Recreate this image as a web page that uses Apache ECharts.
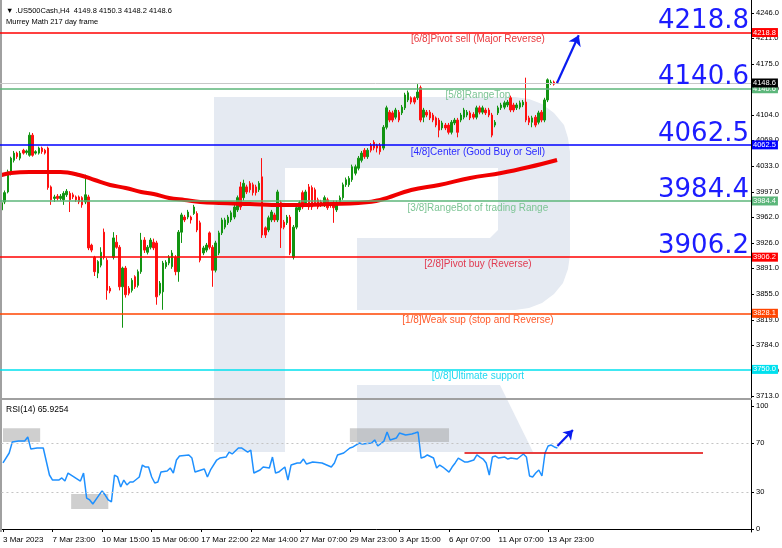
<!DOCTYPE html>
<html><head><meta charset="utf-8">
<script src="https://cdn.jsdelivr.net/npm/echarts@6/dist/echarts.min.js"></script>
<style>html,body{margin:0;padding:0;background:#fff}#c{width:782px;height:548px}</style>
</head><body><div id="c"></div>
<script>
// ---------- data ----------
const timeLabels = ['3 Mar 2023','7 Mar 23:00','10 Mar 15:00','15 Mar 06:00','17 Mar 22:00','22 Mar 14:00','27 Mar 07:00','29 Mar 23:00','3 Apr 15:00','6 Apr 07:00','11 Apr 07:00','13 Apr 23:00'];
const labelStep = 16;
const slotCount = 242;
const priceTicks = [3713.0,3748.0,3784.0,3819.0,3855.0,3891.0,3926.0,3962.0,3997.0,4033.0,4069.0,4104.0,4140.0,4175.0,4211.0,4246.0];
const rsiTicks = [0,30,70,100];
// [open, close, low, high]
const candles = [
[3972,3982,3969,3985],[3983,3996,3980,3999],[3997,4025,3995,4028],[4023,4044,4020,4046],[4041,4051,4038,4054],
[4051,4046,4043,4053],[4044,4051,4041,4054],[4055,4051,4049,4057],[4052,4054,4049,4056],[4048,4076,4046,4080],
[4076,4048,4046,4079],[4051,4053,4049,4055],[4051,4058,4049,4060],[4058,4053,4050,4060],[4055,4051,4049,4057],
[4058,4003,4000,4060],[4004,3986,3979,4006],[3988,3990,3983,3993],[3991,3988,3985,3994],[3988,3991,3985,3994],
[3986,3995,3979,3998],[3993,3998,3990,4001],[3995,3986,3969,3998],[3993,3990,3987,3996],[3990,3986,3983,3992],
[3990,3983,3980,3992],[3989,3979,3975,3991],[3983,3993,3980,4021],[3990,3919,3916,3993],[3923,3916,3913,3925],
[3906,3886,3880,3908],[3884,3900,3877,3902],[3895,3913,3892,3920],[3941,3906,3903,3946],[3902,3860,3847,3905],
[3863,3859,3856,3866],[3906,3933,3903,3941],[3927,3920,3918,3937],[3920,3865,3860,3923],[3865,3891,3808,3893],
[3891,3854,3850,3894],[3863,3856,3853,3866],[3860,3874,3857,3877],[3879,3865,3862,3881],[3867,3886,3864,3889],
[3886,3930,3883,3940],[3930,3916,3912,3934],[3913,3920,3910,3923],[3920,3930,3917,3933],[3927,3919,3916,3932],
[3926,3851,3840,3929],[3856,3870,3853,3873],[3858,3898,3833,3901],[3893,3899,3890,3902],[3898,3906,3895,3909],
[3893,3912,3890,3916],[3906,3886,3881,3909],[3886,3941,3872,3944],[3941,3965,3926,3968],[3962,3958,3955,3965],
[3962,3969,3959,3972],[3962,3958,3953,3964],[3967,3976,3965,3979],[3967,3944,3941,3970],[3954,3902,3899,3957],
[3912,3919,3909,3922],[3916,3923,3913,3926],[3940,3920,3917,3942],[3920,3888,3865,3923],[3888,3926,3885,3929],
[3912,3940,3909,3943],[3940,3958,3937,3961],[3948,3958,3945,3961],[3954,3962,3951,3965],[3958,3968,3955,3971],
[3962,3976,3959,3979],[3972,3989,3969,3992],[4004,3976,3972,4011],[3989,4009,3985,4014],[4004,3997,3994,4007],
[4009,4000,3996,4012],[4007,3996,3992,4010],[4004,3996,3992,4007],[4000,4009,3997,4012],[4018,3937,3933,4044],
[3947,3937,3933,3949],[3944,3961,3941,3964],[3958,3969,3955,3972],[3965,3958,3955,3968],[3958,3997,3955,4000],
[3982,3947,3919,3985],[3955,3948,3945,3958],[3954,3962,3951,3965],[3962,3912,3909,3965],[3906,3948,3903,3951],
[3948,3975,3945,3978],[3972,3982,3969,3985],[3996,3976,3973,3999],[3982,3997,3979,4000],[4004,3976,3972,4008],
[4003,3976,3972,4006],[4000,3982,3979,4003],[3986,3976,3973,3989],[3983,3979,3976,3986],[3979,3989,3976,3992],
[3986,3975,3972,3989],[3979,3978,3975,3982],[3982,3975,3954,3985],[3972,3982,3969,3985],[3982,3989,3979,3992],
[3989,4007,3986,4010],[4007,4014,4004,4017],[4007,4016,4004,4019],[4014,4032,4011,4035],[4023,4032,4020,4035],
[4030,4044,4027,4047],[4041,4051,4038,4054],[4055,4046,4043,4058],[4046,4055,4043,4058],[4062,4055,4052,4065],
[4066,4058,4055,4069],[4062,4058,4052,4064],[4062,4053,4049,4065],[4058,4087,4055,4090],[4087,4114,4084,4117],
[4108,4097,4094,4111],[4107,4097,4094,4110],[4101,4111,4098,4114],[4108,4097,4094,4111],[4107,4115,4104,4118],
[4114,4132,4111,4135],[4125,4135,4122,4138],[4128,4122,4119,4130],[4128,4122,4119,4130],[4128,4136,4125,4147],
[4142,4097,4094,4145],[4101,4111,4094,4114],[4108,4104,4101,4111],[4108,4100,4097,4111],[4104,4097,4094,4107],
[4100,4090,4087,4102],[4097,4083,4073,4100],[4086,4093,4083,4096],[4090,4086,4083,4093],[4090,4080,4077,4093],
[4080,4094,4077,4097],[4093,4097,4090,4100],[4097,4080,4073,4100],[4097,4104,4094,4107],[4101,4111,4098,4114],
[4104,4108,4101,4111],[4107,4100,4097,4110],[4105,4101,4098,4108],[4101,4114,4098,4117],[4114,4108,4105,4117],
[4108,4114,4105,4117],[4111,4107,4104,4114],[4111,4104,4101,4114],[4104,4076,4073,4107],[4090,4094,4087,4097],
[4107,4114,4104,4117],[4114,4118,4111,4121],[4115,4121,4112,4124],[4118,4122,4115,4125],[4128,4111,4108,4131],
[4118,4111,4108,4121],[4114,4118,4111,4121],[4115,4121,4112,4124],[4118,4122,4115,4125],[4122,4097,4094,4156],
[4100,4094,4090,4103],[4094,4100,4087,4103],[4101,4090,4087,4104],[4094,4107,4091,4110],[4108,4097,4094,4111],
[4097,4125,4094,4128],[4125,4153,4122,4155],[4149,4150,4146,4153],[4150,4147,4145,4152],[4149.8,4148.6,4148.2,4150.3]
];
// moving average: [bar index, value]
const maPoints = [[0,4020.6],[3,4023.4],[9,4024.7],[14,4024.7],[19,4024.7],[25,4020.6],[30,4013.6],[35,4006.7],[40,4002.5],[45,3996.9],[49,3994.1],[54,3988.6],[59,3985.8],[64,3983.0],[70,3981.6],[80,3980.2],[90,3978.8],[96,3978.8],[106,3980.2],[115,3981.6],[122,3985.8],[132,3999.7],[141,4006.7],[151,4016.4],[161,4023.4],[170,4031.7],[179,4041.5]];
// RSI(14): [bar index, value]
const rsiPoints = [[0,53.7],[2,61.8],[3,70.7],[5,71.5],[7,71.5],[8,74.8],[9,65.0],[11,65.9],[13,65.9],[15,43.9],[16,39.8],[18,39.8],[19,41.5],[20,39.0],[21,45.5],[22,43.9],[25,39.0],[26,45.5],[27,25.2],[28,23.6],[29,20.3],[31,27.6],[32,30.9],[33,27.6],[34,23.6],[35,22.0],[36,43.9],[37,42.3],[38,34.1],[39,39.8],[40,35.8],[41,38.2],[42,38.2],[44,42.3],[45,52.0],[46,50.4],[47,50.4],[48,42.3],[49,37.4],[50,38.2],[51,46.3],[53,47.2],[54,49.6],[55,45.5],[56,56.1],[57,59.3],[60,60.2],[61,57.7],[62,46.3],[64,48.0],[65,48.8],[66,42.3],[67,48.0],[69,56.1],[70,57.7],[72,58.5],[73,62.6],[74,61.0],[76,65.9],[77,65.9],[79,62.6],[80,64.2],[81,45.5],[83,48.0],[84,50.4],[86,49.6],[87,58.5],[88,45.5],[89,46.3],[91,50.4],[92,39.8],[93,52.0],[95,53.7],[96,53.7],[97,56.9],[98,52.8],[100,54.5],[103,53.7],[106,50.4],[107,53.7],[108,60.2],[110,61.8],[112,65.9],[113,66.7],[115,69.9],[116,69.1],[119,69.9],[120,72.4],[121,67.5],[123,71.5],[124,78.9],[125,72.4],[127,74.0],[128,78.0],[130,76.4],[132,77.2],[133,78.0],[134,78.9],[135,57.7],[136,58.5],[137,60.2],[139,57.7],[140,49.6],[141,52.0],[142,50.4],[144,46.3],[145,50.4],[146,53.7],[147,57.7],[149,54.5],[150,54.5],[152,56.1],[153,60.2],[154,58.5],[155,56.9],[156,53.7],[157,43.9],[158,58.5],[159,59.3],[160,57.7],[162,58.5],[163,56.9],[164,57.7],[166,56.9],[168,61.0],[169,58.5],[170,43.1],[171,42.3],[172,45.5],[173,48.0],[174,43.1],[175,61.8],[176,67.5],[177,68.3],[178,66.7],[179,65.9254]];
const murrayLevels = [4218.8,4140.6,4062.5,3984.4,3906.2,3828.1,3750.0];
const murrayNames = ['[6/8]Pivot sell (Major Reverse)','[5/8]RangeTop','[4/8]Center (Good Buy or Sell)','[3/8]RangeBot of trading Range','[2/8]Pivot buy (Reverse)','[1/8]Weak sup (stop and Reverse)','[0/8]Ultimate support'];
const bigLevelCount = 5;
const lastPrice = 4148.6;
const headerText = '\u25BC .US500Cash,H4  4149.8 4150.3 4148.2 4148.6';
const subHeader = 'Murrey Math 217 day frame';
const rsiTitle = 'RSI(14) 65.9254';
const rsiLevels = [70, 30];
const rsiTrendLevel = 62;
const rsiTrendRange = [149, 226];
const priceArrow = [[179, 4148.6],[186, 4215]];
const rsiArrow = [[179, 67.5],[184, 80.5]];
const rsiBoxes = [[0,12,70.7,82],[22,34,16.3,28.5],[112,144,70.7,82]];

// ---------- styles ----------
const murrayColors = ['#ff0000','#5cb67a','#0000ff','#5cb67a','#ff0000','#ff4500','#00e0ee'];
const murrayTextColors = ['#e8383d','#7cc494','#2b2bff','#7cc494','#e03a50','#ff5a2a','#22d8f0'];
const F = 'Liberation Sans, Arial, sans-serif';
const clear = 'rgba(0,0,0,0)';

const categories = Array.from({length: slotCount}, (_, i) => String(i));
const showAt = i => i % labelStep === 0 && (i / labelStep) < timeLabels.length;

const murrayMarks = [];
murrayLevels.forEach((lvl, i) => {
  murrayMarks.push({yAxis: lvl, lineStyle: {color: murrayColors[i], width: 1.5, type: 'solid'},
    label: {show: true, position: 'end', distance: 1, formatter: lvl.toFixed(1), backgroundColor: murrayColors[i],
      color: '#fff', fontSize: 7.5, fontFamily: F, padding: [1, 2, 0, 1]}});
  murrayMarks.push([{coord: [66, lvl], lineStyle: {color: clear, width: 1}, label: {show: true, position: 'insideMiddleBottom',
      formatter: murrayNames[i], color: murrayTextColors[i], fontSize: 10, fontFamily: F, distance: 2}},
    {coord: [241, lvl]}]);
  if (i < bigLevelCount) {
    murrayMarks.push({yAxis: lvl, lineStyle: {color: clear, width: 1},
      label: {show: true, position: 'insideEndTop', formatter: lvl.toFixed(1), color: '#1c1cff',
        fontSize: 26, lineHeight: 18, fontFamily: 'DejaVu Sans, sans-serif', distance: 2}});
  }
});
murrayMarks.push({yAxis: lastPrice, lineStyle: {color: '#c8c8c8', width: 1, type: 'solid'},
  label: {show: true, position: 'end', distance: 1, formatter: lastPrice.toFixed(1), backgroundColor: '#000',
    color: '#fff', fontSize: 7.5, fontFamily: F, padding: [1, 2, 0, 1]}});
murrayMarks.push([{coord: priceArrow[0], symbol: 'none', lineStyle: {color: '#0a1cf0', width: 2.2, type: 'solid'}, label: {show: false}},
  {coord: priceArrow[1], symbol: 'arrow', symbolSize: 10}]);

const rsiMarks = rsiLevels.map(v => ({yAxis: v, lineStyle: {color: '#c4c4c4', width: 1, type: [2, 3]}, label: {show: false}}));
rsiMarks.push([{coord: [rsiTrendRange[0], rsiTrendLevel], lineStyle: {color: '#e00000', width: 1.5, type: 'solid'}, label: {show: false}},
  {coord: [rsiTrendRange[1], rsiTrendLevel]}]);
rsiMarks.push([{coord: rsiArrow[0], symbol: 'none', lineStyle: {color: '#0a1cf0', width: 2.2, type: 'solid'}, label: {show: false}},
  {coord: rsiArrow[1], symbol: 'arrow', symbolSize: 9}]);

// watermark outline (decoration, pixel space)
const bowl = [[285,97],[515,97],[529,99],[542,104],[554,113],[564,125],[568,138],[570,152],[570,255],[568,269],[563,283],[554,294],[542,303],[529,308],[515,310],[357,310],[357,238],[490,238],[498,230],[498,168],[285,168]];
const leg = [[357,385],[500,385],[533,452],[357,452]];
const wm = '#e5eaf2';
const chart = echarts.init(document.getElementById('c'), null, {renderer: 'canvas'});
chart.setOption({
  animation: false,
  backgroundColor: '#fff',
  textStyle: {fontFamily: F},
  title: [
    {text: headerText, left: 1, top: 2, textStyle: {fontSize: 7.5, fontWeight: 'normal', color: '#000', fontFamily: F}},
    {text: subHeader, left: 1, top: 13, textStyle: {fontSize: 7.5, fontWeight: 'normal', color: '#000', fontFamily: F}},
    {text: rsiTitle, left: 1, top: 400, textStyle: {fontSize: 8.5, fontWeight: 'normal', color: '#000', fontFamily: F}}
  ],
  graphic: [
    {type: 'rect', z: -10, silent: true, shape: {x: 214, y: 97, width: 71, height: 355}, style: {fill: wm}},
    {type: 'polygon', z: -10, silent: true, shape: {points: bowl}, style: {fill: wm}},
    {type: 'polygon', z: -10, silent: true, shape: {points: leg}, style: {fill: wm}},
    {type: 'rect', z: 5, silent: true, shape: {x: 0, y: 398, width: 751, height: 2}, style: {fill: '#a0a0a0'}},
    {type: 'rect', z: 5, silent: true, shape: {x: 0, y: 0, width: 2, height: 532}, style: {fill: '#a0a0a0'}}
  ],
  grid: [
    {left: 0, top: 0, width: 751, height: 398},
    {left: 0, top: 400, width: 751, height: 132}
  ],
  xAxis: [
    {type: 'category', gridIndex: 0, data: categories, boundaryGap: true,
      axisLine: {show: false}, axisTick: {show: false}, axisLabel: {show: false}, splitLine: {show: false}},
    {type: 'category', gridIndex: 1, data: categories, boundaryGap: true,
      axisLine: {show: true, lineStyle: {color: '#000', width: 1}},
      axisTick: {show: true, alignWithLabel: true, interval: (i) => showAt(i), length: 3, lineStyle: {color: '#000'}},
      axisLabel: {show: true, interval: (i) => showAt(i), formatter: (v, i) => showAt(i) ? timeLabels[i / labelStep] : '',
        align: 'left', fontSize: 8, color: '#000', margin: 4, fontFamily: F},
      splitLine: {show: false}}
  ],
  yAxis: [
    {type: 'value', gridIndex: 0, position: 'right', min: 3710.2, max: 4264.1, scale: true,
      axisLine: {show: true, lineStyle: {color: '#000', width: 1}},
      axisTick: {show: true, customValues: priceTicks, length: 3, inside: false, lineStyle: {color: '#000'}},
      axisLabel: {show: true, customValues: priceTicks, formatter: v => v.toFixed(1), fontSize: 7.5, color: '#000', margin: 5, fontFamily: F},
      splitLine: {show: false}},
    {type: 'value', gridIndex: 1, position: 'right', min: -2.44, max: 104.9,
      axisLine: {show: true, lineStyle: {color: '#000', width: 1}},
      axisTick: {show: true, customValues: rsiTicks, length: 3, lineStyle: {color: '#000'}},
      axisLabel: {show: true, customValues: rsiTicks, formatter: v => String(v), fontSize: 7.5, color: '#000', margin: 5, fontFamily: F},
      splitLine: {show: false}}
  ],
  series: [
    {type: 'candlestick', xAxisIndex: 0, yAxisIndex: 0, data: candles, barWidth: 2,
      itemStyle: {color: '#129412', color0: '#ff1010', borderColor: '#129412', borderColor0: '#ff1010', borderWidth: 1},
      markLine: {silent: true, symbol: 'none', animation: false, data: murrayMarks}},
    {type: 'line', xAxisIndex: 0, yAxisIndex: 0, data: maPoints, smooth: 0.4, symbol: 'none',
      lineStyle: {color: '#f00000', width: 4}, z: 3},
    {type: 'line', xAxisIndex: 1, yAxisIndex: 1, data: rsiPoints, symbol: 'none',
      lineStyle: {color: '#1e90ff', width: 1.5},
      markLine: {silent: true, symbol: 'none', animation: false, data: rsiMarks},
      markArea: {silent: true, itemStyle: {color: 'rgba(160,160,160,0.5)'},
        data: rsiBoxes.map(b => [{coord: [b[0], b[3]]}, {coord: [b[1], b[2]]}])}}
  ]
});
</script></body></html>
